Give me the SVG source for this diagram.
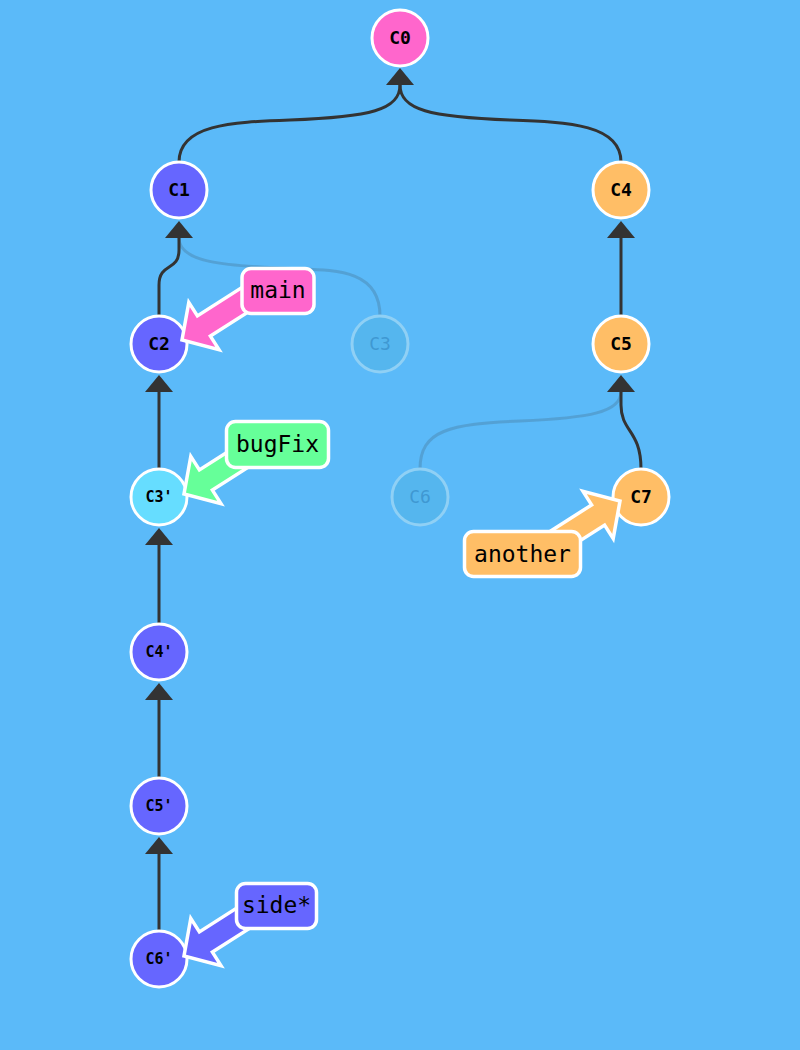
<svg xmlns="http://www.w3.org/2000/svg" xmlns:xlink="http://www.w3.org/1999/xlink" width="800" height="1050" viewBox="0 0 800 1050">
<defs>
<style>
.edge{fill:none;stroke:#333;stroke-width:3}
.faded{fill:none;stroke:#333;stroke-width:3;opacity:0.18}
.ah{fill:#333}
.node{stroke:#fff;stroke-width:3}
.ntext{font-family:"DejaVu Sans Mono","Liberation Mono",monospace;font-weight:bold;font-size:18px;fill:#000;text-anchor:middle}
.ntext3{font-size:15px}
.ghost circle{fill:#55b6ee;stroke:#8fd0f5;stroke-width:3}
.ghost text{font-family:"DejaVu Sans Mono","Liberation Mono",monospace;font-size:18px;fill:#3f98d2;text-anchor:middle}
.lbl{stroke:#fff;stroke-width:3.5;stroke-linejoin:miter}
.ltext{font-family:"DejaVu Sans Mono","Liberation Mono",monospace;font-size:23px;fill:#000;text-anchor:middle}
.pink{fill:#ff66cc}
.purple{fill:#6666ff}
.orange{fill:#ffbe66}
.cyan{fill:#66ddff}
.green{fill:#66ff99}
</style>
<path id="ah" d="M0,-17 L14,0 L-14,0 Z"/>
</defs>
<rect x="0" y="0" width="800" height="1050" fill="#5bbaf9"/>

<g id="connectors">
<path class="faded" d="M380,316 C380,272 340,270 300,269 C220,266 179,262 179,238"/>
<path class="faded" d="M420,469 C420,430 450,424 520,421 C590,418 621,412 621,392"/>
<path class="edge" d="M179,162 C179,125 230,122 290,120 C370,117 400,110 400,85"/>
<path class="edge" d="M621,162 C621,125 570,122 510,120 C430,117 400,110 400,85"/>
<path class="edge" d="M159,316 L159,285 C159,262 179,272 179,250 L179,238"/>
<path class="edge" d="M621,316 L621,238"/>
<path class="edge" d="M159,469 L159,392"/>
<path class="edge" d="M159,624 L159,545"/>
<path class="edge" d="M159,778 L159,700"/>
<path class="edge" d="M159,931 L159,854"/>
<path class="edge" d="M641,469 C641,430 621,432 621,405 L621,392"/>
<use class="ah" xlink:href="#ah" x="400" y="85"/>
<use class="ah" xlink:href="#ah" x="179" y="238"/>
<use class="ah" xlink:href="#ah" x="621" y="238"/>
<use class="ah" xlink:href="#ah" x="159" y="392"/>
<use class="ah" xlink:href="#ah" x="621" y="392"/>
<use class="ah" xlink:href="#ah" x="159" y="545"/>
<use class="ah" xlink:href="#ah" x="159" y="700"/>
<use class="ah" xlink:href="#ah" x="159" y="854"/>
</g>

<g id="C3" class="ghost"><circle cx="380" cy="344" r="28"/><text x="380" y="350">C3</text></g>
<g id="C6" class="ghost"><circle cx="420" cy="497" r="28"/><text x="420" y="503">C6</text></g>

<g id="C0"><circle class="node pink" cx="400" cy="38" r="28"/><text class="ntext" x="400" y="44">C0</text></g>
<g id="C1"><circle class="node purple" cx="179" cy="190" r="28"/><text class="ntext" x="179" y="196">C1</text></g>
<g id="C4"><circle class="node orange" cx="621" cy="190" r="28"/><text class="ntext" x="621" y="196">C4</text></g>
<g id="C2"><circle class="node purple" cx="159" cy="344" r="28"/><text class="ntext" x="159" y="350">C2</text></g>
<g id="C5"><circle class="node orange" cx="621" cy="344" r="28"/><text class="ntext" x="621" y="350">C5</text></g>
<g id="C3p"><circle class="node cyan" cx="159" cy="497" r="28"/><text class="ntext ntext3" x="159" y="502">C3'</text></g>
<g id="C7"><circle class="node orange" cx="641" cy="497" r="28"/><text class="ntext" x="641" y="503">C7</text></g>
<g id="C4p"><circle class="node purple" cx="159" cy="652" r="28"/><text class="ntext ntext3" x="159" y="657">C4'</text></g>
<g id="C5p"><circle class="node purple" cx="159" cy="806" r="28"/><text class="ntext ntext3" x="159" y="811">C5'</text></g>
<g id="C6p"><circle class="node purple" cx="159" cy="959" r="28"/><text class="ntext ntext3" x="159" y="964">C6'</text></g>

<g id="main">
<polygon class="lbl pink" points="259.8,276.1 197.4,315.9 188.8,302.4 182,340 219.0,349.6 210.4,336.1 272.8,296.3"/>
<rect class="lbl pink" x="242" y="268.5" width="72" height="45" rx="9"/>
<text class="ltext" x="278" y="298">main</text>
</g>
<g id="bugFix">
<polygon class="lbl green" points="261.8,430.1 199.4,469.9 190.8,456.4 184,494 221.0,503.6 212.4,490.1 274.8,450.3"/>
<rect class="lbl green" x="226.5" y="421.5" width="102" height="46" rx="9"/>
<text class="ltext" x="277.5" y="452">bugFix</text>
</g>
<g id="side">
<polygon class="lbl purple" points="261.8,892.1 199.4,931.9 190.8,918.4 184,956 221.0,965.6 212.4,952.1 274.8,912.3"/>
<rect class="lbl purple" x="236.5" y="883.5" width="80" height="45" rx="9"/>
<text class="ltext" x="276.5" y="913">side*</text>
</g>
<g id="another">
<polygon class="lbl orange" points="529.2,544.7 591.6,504.9 583.0,491.4 620,501 613.2,538.6 604.6,525.1 542.2,564.9"/>
<rect class="lbl orange" x="464.5" y="531.5" width="116" height="45" rx="9"/>
<text class="ltext" x="522.5" y="562">another</text>
</g>
</svg>
